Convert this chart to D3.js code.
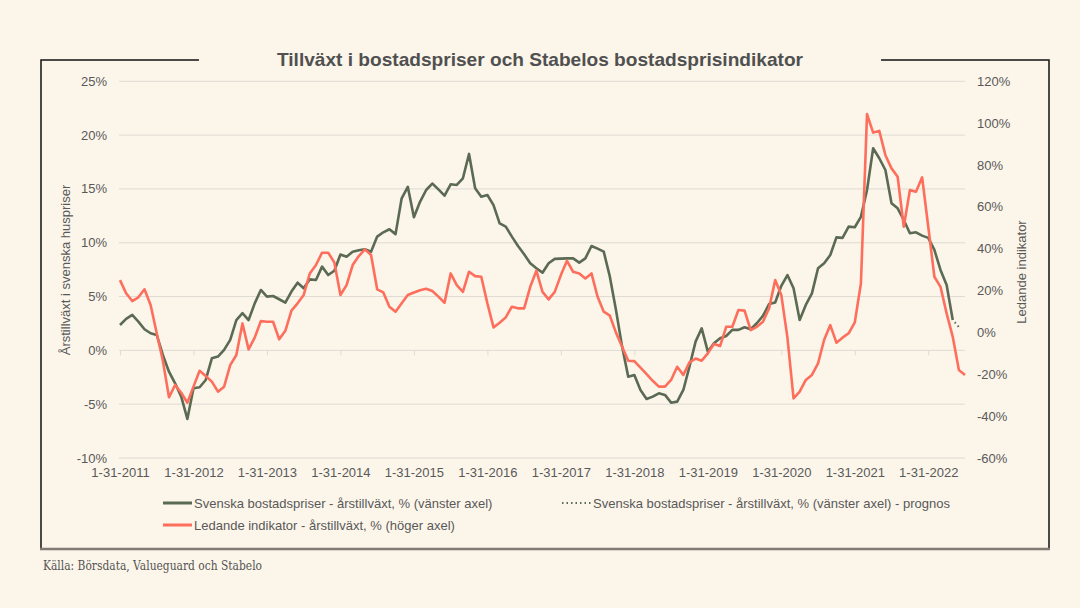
<!DOCTYPE html>
<html><head><meta charset="utf-8">
<script src="https://cdn.jsdelivr.net/npm/d3@7"></script>
<style>
html,body{margin:0;padding:0;background:#fcf5ea;}
svg{display:block;}
text{font-family:"Liberation Sans",Arial,sans-serif;fill:#595959;}
</style></head><body>
<svg id="chart" width="1080" height="608"></svg>
<script>
// ---- DATA ----
const titleText = "Tillväxt i bostadspriser och Stabelos bostadsprisindikator";
const sourceText = "Källa: Börsdata, Valueguard och Stabelo";
const leftAxisTitle = "Årstillväxt i svenska huspriser";
const rightAxisTitle = "Ledande indikator";
const seriesNames = [
  "Svenska bostadspriser - årstillväxt, % (vänster axel)",
  "Svenska bostadspriser - årstillväxt, % (vänster axel) - prognos",
  "Ledande indikator - årstillväxt, % (höger axel)"
];
// monthly categories, month-end Jan 2011 .. Jul 2022
const months = d3.timeMonth.range(new Date(2011, 1, 1), new Date(2022, 8, 1)).map(d => d3.timeDay.offset(d, -1));
const xTickLabels = ["1-31-2011","1-31-2012","1-31-2013","1-31-2014","1-31-2015","1-31-2016","1-31-2017","1-31-2018","1-31-2019","1-31-2020","1-31-2021","1-31-2022"];
const leftTicks = [-10, -5, 0, 5, 10, 15, 20, 25];
const rightTicks = [-60, -40, -20, 0, 20, 40, 60, 80, 100, 120];

// Svenska bostadspriser, årstillväxt % (left axis), Jan 2011 .. May 2022
const housePrices = [
  2.36, 2.92, 3.29, 2.67, 1.96, 1.59, 1.43, -0.43, -1.98, -3.06, -4.3, -6.37,
  -3.52, -3.43, -2.75, -0.74, -0.58, 0.04, 0.97, 2.82, 3.45, 2.82, 4.37, 5.61,
  4.99, 5.05, 4.75, 4.43, 5.46, 6.29, 5.77, 6.6, 6.54, 7.78, 7.0, 7.4,
  8.9, 8.7, 9.17, 9.3, 9.39, 9.17, 10.57, 10.97, 11.25, 10.8, 14.13, 15.2,
  12.37, 13.8, 14.9, 15.5, 14.96, 14.37, 15.43, 15.37, 15.99, 18.25, 15.06, 14.28,
  14.44, 13.5, 11.8, 11.5, 10.57, 9.7, 8.93, 8.09, 7.63, 7.22, 8.09, 8.5,
  8.52, 8.55, 8.55, 8.15, 8.55, 9.7, 9.45, 9.17, 6.85, 3.75, 0.35, -2.44,
  -2.29, -3.68, -4.52, -4.3, -3.99, -4.14, -4.86, -4.76, -3.68, -1.51, 0.81, 2.05,
  -0.12, 0.66, 1.12, 1.34, 1.9, 1.9, 2.15, 1.96, 2.52, 3.2, 4.3, 4.45,
  6.0, 7.0, 5.77, 2.82, 4.22, 5.3, 7.63, 8.09, 8.86, 10.5, 10.45, 11.5,
  11.44, 12.4, 14.9, 18.78, 17.85, 16.76, 13.67, 13.2, 12.12, 10.88, 10.97, 10.66,
  10.45, 9.33, 7.47, 6.08, 2.82
];
// prognos (forecast) continuing from the last observed month
const forecastStartIndex = 136;
const forecastValues = [2.82, 2.17];

// Ledande indikator, årstillväxt % (right axis), Jan 2011 .. Jul 2022
const leadingIndicator = [
  25.0, 18.7, 15.0, 16.8, 20.6, 13.1, -0.4, -13.5, -31.0, -25.1, -28.8, -33.6,
  -25.9, -18.3, -20.8, -23.5, -28.3, -25.9, -15.6, -10.8, 4.3, -8.1, -2.5, 5.4,
  5.1, 5.1, -3.3, 0.8, 10.4, 13.9, 17.9, 28.2, 32.2, 38.1, 38.1, 33.5,
  17.9, 22.6, 32.2, 36.5, 39.7, 37.0, 20.6, 19.1, 12.3, 9.9, 13.9, 17.9,
  19.1, 20.2, 20.9, 19.8, 17.1, 14.2, 28.2, 22.6, 19.4, 29.0, 26.9, 26.6,
  13.9, 2.4, 4.6, 7.2, 12.3, 11.5, 11.5, 21.8, 29.5, 19.4, 15.8, 19.4,
  27.4, 34.2, 29.0, 28.2, 25.8, 28.2, 17.0, 9.9, 8.0, -0.1, -6.8, -13.5,
  -13.7, -16.8, -19.9, -23.1, -25.9, -25.9, -22.7, -16.4, -20.3, -14.3, -12.5, -13.5,
  -10.0, -5.5, -6.5, 2.7, 2.7, 10.7, 10.4, 1.1, 2.7, 5.1, 11.5, 25.0,
  17.9, -2.5, -31.5, -28.3, -22.7, -20.3, -14.8, -3.5, 3.5, -4.9, -2.5, -0.4,
  4.8, 23.4, 104.3, 95.5, 96.3, 84.7, 78.4, 74.4, 50.5, 68.0, 67.2, 74.1,
  50.5, 26.6, 21.8, 9.1, -2.1, -18.0, -20.3
];

// ---- STYLE ----
const greenColor = "#5b6a52";
const redColor = "#fd6f5c";
const gridColor = "#dedbd4";
const textColor = "#595959";

const svg = d3.select("#chart");
const W = 1080, H = 608;
const plot = {left: 120, right: 965, top: 81.3, bottom: 458};

const x = d3.scaleLinear().domain([0, months.length - 1]).range([plot.left, plot.right]);
const yL = d3.scaleLinear().domain([d3.min(leftTicks), d3.max(leftTicks)]).range([plot.bottom, plot.top]);
const yR = d3.scaleLinear().domain([d3.min(rightTicks), d3.max(rightTicks)]).range([plot.bottom, plot.top]);

svg.append("rect").attr("width", W).attr("height", H).attr("fill", "#fcf5ea");

// frame
const frame = svg.append("g").attr("fill", "none");
frame.append("path").attr("d", "M199,60 H41 V549").attr("stroke", "#111").attr("stroke-width", 1.5);
frame.append("path").attr("d", "M881,60 H1049 V549").attr("stroke", "#111").attr("stroke-width", 1.5);
frame.append("line").attr("x1", 40).attr("x2", 1050).attr("y1", 549).attr("y2", 549)
  .attr("stroke", "#7d7b74").attr("stroke-width", 2.5);

// title
svg.append("text").attr("x", 540).attr("y", 66).attr("text-anchor", "middle")
  .attr("font-size", 19).attr("font-weight", "bold").style("fill", "#505050")
  .attr("textLength", 526).attr("lengthAdjust", "spacingAndGlyphs")
  .text(titleText);

// gridlines
svg.append("g").selectAll("line").data(leftTicks).join("line")
  .attr("x1", plot.left - 1).attr("x2", plot.right)
  .attr("y1", d => yL(d)).attr("y2", d => yL(d))
  .attr("stroke", gridColor).attr("stroke-width", 1);

// left axis labels
svg.append("g").selectAll("text").data(leftTicks).join("text")
  .attr("x", 107).attr("y", d => yL(d)).attr("dy", "0.35em")
  .attr("text-anchor", "end").attr("font-size", 13).text(d => d + "%");

// right axis labels
svg.append("g").selectAll("text").data(rightTicks).join("text")
  .attr("x", 977).attr("y", d => yR(d)).attr("dy", "0.35em")
  .attr("text-anchor", "start").attr("font-size", 13).text(d => d + "%");

// x tick marks on zero line
const tickIdx = xTickLabels.map((_, i) => i * 12);
const xAxisTicks = d3.axisBottom(x).tickValues(tickIdx).tickSize(5).tickFormat("");
const gt = svg.append("g").attr("transform", `translate(0,${yL(0)})`).call(xAxisTicks);
gt.select(".domain").remove();
gt.selectAll("line").attr("stroke", gridColor);

// x labels at bottom
const xAxisLabels = d3.axisBottom(x).tickValues(tickIdx).tickSize(0).tickPadding(10)
  .tickFormat((d, i) => xTickLabels[i]);
const gl = svg.append("g").attr("transform", `translate(0,${plot.bottom})`).call(xAxisLabels);
gl.select(".domain").remove();
gl.selectAll("text").attr("font-size", 13).attr("font-family", null).style("fill", textColor);

// axis titles
svg.append("text").attr("transform", "translate(70,270) rotate(-90)")
  .attr("text-anchor", "middle").attr("font-size", 13).text(leftAxisTitle);
svg.append("text").attr("transform", "translate(1026,272) rotate(-90)")
  .attr("text-anchor", "middle").attr("font-size", 13).text(rightAxisTitle);

// lines
const lineL = d3.line().x(d => x(d.i)).y(d => yL(d.v));
const lineR = d3.line().x(d => x(d.i)).y(d => yR(d.v));
svg.append("path").datum(housePrices.map((v, i) => ({i, v})))
  .attr("d", lineL).attr("fill", "none").attr("stroke", greenColor)
  .attr("stroke-width", 2.6).attr("stroke-linejoin", "round");
svg.append("path").datum(forecastValues.map((v, k) => ({i: forecastStartIndex + k, v})))
  .attr("d", lineL).attr("fill", "none").attr("stroke", greenColor)
  .attr("stroke-width", 2).attr("stroke-dasharray", "1.5,3").attr("stroke-dashoffset", -3);
svg.append("path").datum(leadingIndicator.map((v, i) => ({i, v})))
  .attr("d", lineR).attr("fill", "none").attr("stroke", redColor)
  .attr("stroke-width", 2.6).attr("stroke-linejoin", "round");

// legend
const lg = svg.append("g").attr("font-size", 13);
function legendItem(xs, y, color, dash, label) {
  lg.append("line").attr("x1", xs).attr("x2", xs + 29).attr("y1", y).attr("y2", y)
    .attr("stroke", color).attr("stroke-width", dash ? 2 : 3).attr("stroke-dasharray", dash);
  lg.append("text").attr("x", xs + 31).attr("y", y).attr("dy", "0.35em").text(label);
}
legendItem(163, 503, greenColor, null, seriesNames[0]);
legendItem(562, 503, greenColor, "1.5,3", seriesNames[1]);
legendItem(163, 525, redColor, null, seriesNames[2]);

// source
svg.append("text").attr("x", 43).attr("y", 570).attr("font-size", 12.5)
  .style("font-family", "'DejaVu Serif', serif").style("fill", "#555")
  .attr("textLength", 219).attr("lengthAdjust", "spacingAndGlyphs")
  .text(sourceText);
</script>
</body></html>
